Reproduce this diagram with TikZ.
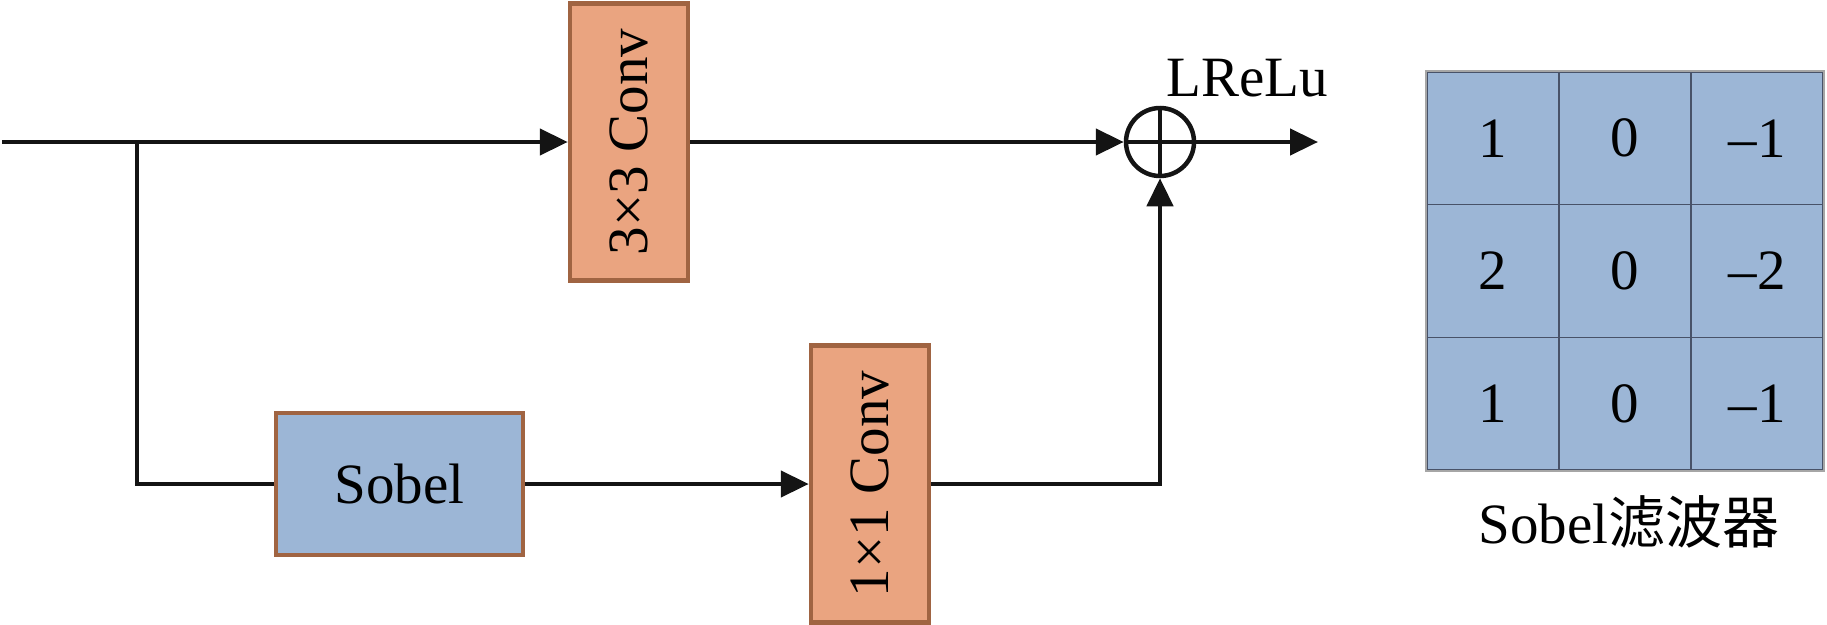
\documentclass[tikz,border=0pt]{standalone}
\usepackage{fontspec}
\setmainfont{Liberation Serif}
\newfontfamily\cjk{Noto Sans CJK SC}
\usetikzlibrary{arrows.meta,shapes.geometric}
\definecolor{convfill}{RGB}{234,164,128}
\definecolor{boxedge}{RGB}{160,100,66}
\definecolor{bluefill}{RGB}{156,182,214}
\definecolor{gridline}{RGB}{72,82,104}
\tikzset{
  lbl/.style={font=\fontsize{57}{60}\selectfont, text=black},
  convbox/.style={lbl, draw=boxedge, fill=convfill, line width=4.5pt, minimum width=118pt, minimum height=277pt, inner sep=0pt},
  sobelbox/.style={lbl, draw=boxedge, fill=bluefill, line width=4.5pt, minimum width=247pt, minimum height=142pt, inner sep=0pt},
  cell/.style={lbl, draw=gridline, fill=bluefill, line width=1.5pt, minimum width=132pt, minimum height=132.7pt, inner sep=0pt},
  wire/.style={line width=4.5pt, draw=black!92},
  arr/.style={wire, -{Triangle[length=28pt,width=26pt]}},
  sumnode/.style={circle, draw=black!92, line width=4.5pt, minimum size=68pt, inner sep=0pt}
}
\begin{document}
\begin{tikzpicture}[x=1pt,y=-1pt]
\useasboundingbox (0,0) rectangle (1827,624);
% blocks
\node[convbox] (conv3) at (629,142) {\rotatebox{90}{3×3 Conv}};
\node[sobelbox] (sobel) at (399.5,484) {\raisebox{-4pt}{Sobel}};
\node[convbox] (conv1) at (870,484) {\rotatebox{90}{1×1 Conv}};
\node[sumnode] (sum) at (1160,142) {};
\draw[wire] (sum.north) -- (sum.south) (sum.west) -- (sum.east);
\node[lbl] (lrelu) at (1247,78) {LReLu};
% connectors
\coordinate (in) at (2,142);
\coordinate (br) at (137,142);
\coordinate (out) at (1318,142);
\draw[arr] (in) -- (conv3.west);
\draw[wire] (br) |- (sobel.west);
\draw[arr] (sobel.east) -- (conv1.west);
\draw[arr] (conv3.east) -- (sum.west);
\draw[arr] (conv1.east) -| (sum.south);
\draw[arr] (sum.east) -- (out);
% Sobel filter grid
\node[cell] (c11) at (1493,138.3) {1};
\node[cell] (c12) at (1625,138.3) {0};
\node[cell] (c13) at (1757,138.3) {–1};
\node[cell] (c21) at (1493,271) {2};
\node[cell] (c22) at (1625,271) {0};
\node[cell] (c23) at (1757,271) {–2};
\node[cell] (c31) at (1493,403.7) {1};
\node[cell] (c32) at (1625,403.7) {0};
\node[cell] (c33) at (1757,403.7) {–1};
\draw[draw=gray!70, line width=2pt] (c11.north west) rectangle (c33.south east);
\node[lbl] (cap) at (1629,522) {Sobel{\cjk 滤波器}};
\end{tikzpicture}
\end{document}
